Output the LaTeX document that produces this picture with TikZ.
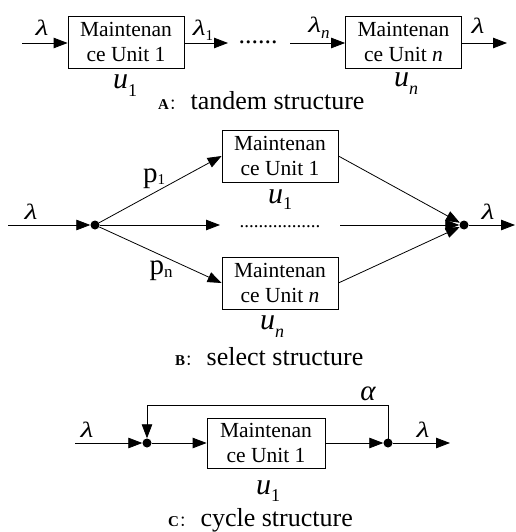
\documentclass[tikz,border=0pt]{standalone}
\usepackage{fontspec}
\setmainfont{Liberation Serif}
\newfontfamily\cjk{Noto Sans CJK SC}
\usetikzlibrary{arrows.meta}

% base symbol with a lowered, smaller index: \idx{size}{drop}{base}{index}
\newcommand{\idx}[4]{{#3}\raisebox{-#2}{\fontsize{#1}{#1}\selectfont #4}}
% wide slanted lambda
\newcommand{\lam}{\scalebox{1.35}[1]{\itshape λ}}
% bold section letter with full-width colon
\newcommand{\seclabel}[1]{{\fontsize{15}{15}\selectfont\bfseries #1}{\cjk\fontsize{15}{15}\selectfont ：}}

\tikzset{
  unit/.style={draw, line width=0.8pt, minimum width=116pt, minimum height=52pt,
    inner sep=0pt, align=center, font=\fontsize{21.5}{25}\selectfont},
  flow/.style={line width=0.8pt, -{Triangle[length=14pt,width=10.5pt]}},
  junction/.style={circle, fill, inner sep=0pt, minimum size=9pt},
  sym/.style={font=\fontsize{22}{22}\selectfont, inner sep=0pt},
  prob/.style={font=\fontsize{29}{29}\selectfont, inner sep=0pt, anchor=base},
  ulab/.style={font=\fontsize{30}{30}\selectfont, inner sep=0pt, anchor=base},
  ellip/.style={font=\fontsize{26}{26}\selectfont, inner sep=0pt, anchor=base},
  captiontext/.style={font=\fontsize{26}{26}\selectfont, inner sep=0pt, anchor=base west},
}

\begin{document}
\begin{tikzpicture}[x=1pt, y=-1pt]
\useasboundingbox (0,0) rectangle (515,532);

% ---------- A: tandem structure ----------
\node[unit] (a1) at (126,42) {Maintenan\\ce Unit 1};
\node[unit] (an) at (403.5,42) {Maintenan\\ce Unit \textit{n}};
\coordinate (ain) at (22,43);
\coordinate (a1out) at (228,43);
\coordinate (anin) at (290,43);
\coordinate (aout) at (507,43);
\draw[flow] (ain) -- (ain -| a1.west);
\draw[flow] (a1out -| a1.east) -- (a1out);
\draw[flow] (anin) -- (anin -| an.west);
\draw[flow] (aout -| an.east) -- (aout);
\node[ellip] (adots) at (258,44) {......};
\node[sym] (la0) at (42,28) {\lam};
\node[sym] (la1) at (203,30) {\idx{15pt}{5pt}{\lam}{1}};
\node[sym] (lan) at (319,28) {\idx{17pt}{6pt}{\lam}{\itshape n}};
\node[sym] (laout) at (478,26) {\lam};
\node[ulab] (ua1) at (125,89) {\idx{18pt}{8pt}{\itshape u}{1}};
\node[ulab] (uan) at (406,87) {\idx{18pt}{8pt}{\itshape u}{\itshape n}};
\node[captiontext] (capA) at (158,110) {\seclabel{A} tandem structure};

% ---------- B: select structure ----------
\node[junction] (jA) at (95,225) {};
\node[junction] (jB) at (464,225) {};
\node[unit] (b1) at (280,156) {Maintenan\\ce Unit 1};
\node[unit] (bn) at (280,283) {Maintenan\\ce Unit \textit{n}};
\coordinate (bin) at (8,225);
\coordinate (bout) at (515,225);
\coordinate (midA) at (220,225);
\coordinate (midB) at (340,225);
\draw[flow] (bin) -- (jA);
\draw[flow] (jA) -- (b1.west);
\draw[flow] (jA) -- (bn.west);
\draw[flow] (jA) -- (midA);
\draw[flow] (b1.east) -- (jB);
\draw[flow] (bn.east) -- (jB);
\draw[flow] (midB) -- (jB);
\draw[flow] (jB) -- (bout);
\node[ellip, font=\fontsize{19}{19}\selectfont] (bdots) at (280,227) {.................};
\node[sym] (lb0) at (31,212) {\lam};
\node[sym] (lbout) at (488,212) {\lam};
\node[prob] (p1) at (154,182) {\idx{15pt}{2pt}{p}{1}};
\node[prob] (pn) at (161,274) {\idx{17pt}{3pt}{p}{n}};
\node[ulab] (ub1) at (280,203) {\idx{18pt}{6pt}{\itshape u}{1}};
\node[ulab] (ubn) at (272,329) {\idx{18pt}{8pt}{\itshape u}{\itshape n}};
\node[captiontext] (capB) at (175,365) {\seclabel{B} select structure};

% ---------- C: cycle structure ----------
\node[junction] (j1) at (147,443) {};
\node[junction] (j2) at (388,443) {};
\node[unit, minimum width=118pt, minimum height=50pt] (c1) at (266,443) {Maintenan\\ce Unit 1};
\coordinate (cin) at (75,443);
\coordinate (cout) at (450,443);
\coordinate (loopR) at (388,405);
\coordinate (loopL) at (147,405);
\draw[flow] (cin) -- (j1);
\draw[flow] (j1) -- (c1.west);
\draw[flow] (c1.east) -- (j2);
\draw[flow] (j2) -- (cout);
\draw[flow] (j2.center) -- (loopR) -- (loopL) -- (j1);
\node[sym] (lc0) at (87,430) {\lam};
\node[sym] (lcout) at (423,430) {\lam};
\node[sym, font=\fontsize{29}{29}\selectfont\itshape] (alpha) at (368,394) {α};
\node[ulab] (uc1) at (268,494) {\idx{18pt}{7pt}{\itshape u}{1}};
\node[captiontext] (capC) at (168,526) {\seclabel{C} cycle structure};
\end{tikzpicture}
\end{document}
